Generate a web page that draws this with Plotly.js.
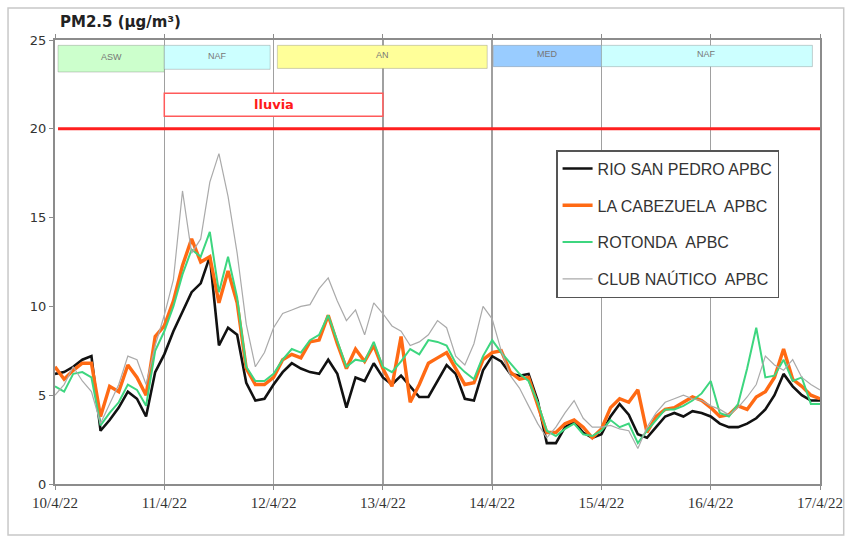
<!DOCTYPE html>
<html>
<head>
<meta charset="utf-8">
<script src="https://cdn.plot.ly/plotly-3.0.1.min.js"></script>
<style>
  html, body { margin: 0; padding: 0; background: #fff; }
  #chart { width: 851px; height: 542px; }
</style>
</head>
<body>
<div id="chart"></div>
<script>
// ---- Data (2-hour readings from 10/4/22 00:00 to 17/4/22 00:00) ----
const startDay = 10;
const stepHours = 2;

const rioSanPedro = [6.2, 6.3, 6.6, 7.0, 7.2, 3.0, 3.6, 4.3, 5.2, 4.8, 3.8, 6.3, 7.3, 8.6, 9.7, 10.8, 11.3, 12.8, 7.8, 8.8, 8.4, 5.7, 4.7, 4.8, 5.6, 6.3, 6.8, 6.5, 6.3, 6.2, 7.0, 6.2, 4.3, 6.0, 5.8, 6.8, 6.0, 5.6, 6.1, 5.5, 4.9, 4.9, 5.8, 6.7, 6.2, 4.8, 4.7, 6.4, 7.2, 6.9, 6.2, 6.1, 6.2, 4.7, 2.3, 2.3, 3.2, 3.5, 2.9, 2.6, 2.8, 3.8, 4.5, 3.9, 2.8, 2.6, 3.2, 3.8, 4.0, 3.8, 4.1, 4.0, 3.8, 3.4, 3.2, 3.2, 3.4, 3.7, 4.2, 5.0, 6.2, 5.5, 5.0, 4.7, 4.7];
const laCabezuela = [6.6, 5.9, 6.4, 6.8, 6.8, 3.8, 5.5, 5.2, 6.7, 6.0, 5.0, 8.3, 8.9, 10.3, 12.3, 13.8, 12.5, 12.8, 10.2, 12.0, 10.2, 6.5, 5.6, 5.6, 6.0, 7.0, 7.3, 7.1, 8.0, 8.1, 9.5, 7.9, 6.5, 7.6, 6.9, 7.8, 6.5, 5.5, 8.3, 4.6, 5.6, 6.8, 7.1, 7.4, 6.5, 5.6, 5.7, 7.0, 7.4, 7.5, 6.3, 5.9, 6.0, 4.5, 2.9, 2.9, 3.4, 3.6, 3.2, 2.6, 3.1, 4.3, 4.8, 4.6, 5.3, 2.9, 3.8, 4.2, 4.3, 4.6, 4.9, 4.7, 4.3, 3.8, 3.9, 4.4, 4.2, 4.9, 5.2, 6.0, 7.6, 5.9, 5.5, 5.0, 4.8];
const rotonda = [5.5, 5.2, 6.2, 6.3, 6.0, 3.3, 4.0, 4.6, 5.6, 5.3, 4.4, 7.5, 8.6, 10.0, 11.8, 13.2, 12.8, 14.2, 10.8, 12.8, 10.5, 6.6, 5.8, 5.8, 6.2, 7.0, 7.6, 7.4, 8.1, 8.4, 9.5, 8.1, 6.6, 7.0, 6.9, 8.0, 6.6, 6.3, 6.9, 7.6, 7.3, 8.1, 8.0, 7.8, 6.8, 6.3, 5.9, 7.2, 8.1, 7.4, 6.8, 6.2, 5.8, 4.6, 3.0, 2.7, 3.1, 3.4, 2.8, 2.7, 3.0, 3.6, 3.2, 3.4, 2.3, 3.0, 3.6, 4.2, 4.2, 4.4, 4.7, 5.1, 5.8, 4.0, 3.8, 4.5, 6.5, 8.8, 6.0, 6.1, 7.0, 5.8, 6.0, 4.5, 4.5];
const clubNautico = [5.0, 5.6, 6.6, 5.8, 5.2, 3.4, 4.5, 5.6, 7.2, 7.0, 5.6, 7.8, 9.5, 11.5, 16.5, 13.0, 13.8, 17.0, 18.6, 16.2, 13.0, 9.0, 6.6, 7.4, 8.8, 9.6, 9.8, 10.0, 10.1, 11.0, 11.6, 10.3, 9.2, 9.8, 8.4, 10.2, 9.6, 8.9, 8.6, 7.8, 8.0, 8.4, 9.2, 8.8, 7.2, 6.7, 7.9, 10.0, 9.3, 7.5, 6.1, 5.4, 4.4, 3.4, 2.6, 3.2, 4.0, 4.7, 3.7, 3.2, 3.2, 3.3, 3.1, 3.0, 2.0, 3.2, 4.0, 4.6, 4.8, 5.0, 4.8, 4.7, 4.4, 4.2, 3.9, 4.3, 4.9, 5.6, 7.2, 6.7, 6.4, 7.0, 6.0, 5.6, 5.3];

const seriesNames = ['RIO SAN PEDRO APBC', 'LA CABEZUELA\u00a0 APBC', 'ROTONDA\u00a0 APBC', 'CLUB NAÚTICO\u00a0 APBC'];

const tickDates = ['2022-04-10', '2022-04-11', '2022-04-12', '2022-04-13', '2022-04-14', '2022-04-15', '2022-04-16', '2022-04-17'];
const tickLabels = ['10/4/22', '11/4/22', '12/4/22', '13/4/22', '14/4/22', '15/4/22', '16/4/22', '17/4/22'];

const limitValue = 20;
const limitStart = '2022-04-10 00:40';
const limitEnd = '2022-04-17 00:00';

// air-mass episodes
const episodeLabels = ['ASW', 'NAF', 'AN', 'MED', 'NAF'];
const episodeStart = ['2022-04-10 00:40', '2022-04-11 00:00', '2022-04-12 00:50', '2022-04-14 00:15', '2022-04-15 00:00'];
const episodeEnd = ['2022-04-11 00:00', '2022-04-11 23:15', '2022-04-13 22:55', '2022-04-15 00:00', '2022-04-16 22:20'];

const rainLabel = 'lluvia';
const rainStart = '2022-04-11 00:00';
const rainEnd = '2022-04-13 00:00';

// ---- Build ----
function stamp(k) {
  const h = k * stepHours;
  const d = startDay + Math.floor(h / 24);
  const hh = h % 24;
  return '2022-04-' + String(d).padStart(2, '0') + ' ' + String(hh).padStart(2, '0') + ':00';
}
const times = rioSanPedro.map((_, k) => stamp(k));

const seriesValues = [rioSanPedro, laCabezuela, rotonda, clubNautico];
const seriesColors = ['#111111', '#ff6a14', '#3dd67f', '#aaaaaa'];
const seriesWidths = [2.6, 3.4, 2.0, 1.2];

const traces = seriesValues.map((vals, i) => ({
  type: 'scatter',
  mode: 'lines',
  x: times,
  y: vals,
  name: seriesNames[i],
  legendgroup: 'g' + i,
  line: { color: seriesColors[i], width: seriesWidths[i] },
  hoverinfo: 'skip'
}));

const episodeFill = ['#ccffcc', '#ccffff', '#ffff99', '#99ccff', '#ccffff'];
const episodeTop = [24.7, 24.7, 24.7, 24.7, 24.7];
const episodeBottom = [23.2, 23.35, 23.4, 23.5, 23.5];

const shapes = [];
const annotations = [];

// outer frame
shapes.push({ type: 'rect', xref: 'paper', yref: 'paper', x0: -0.0614, x1: 1.031, y0: -0.115, y1: 1.072,
  line: { color: '#c8c8c8', width: 1.5 }, fillcolor: 'rgba(0,0,0,0)', layer: 'below' });

episodeLabels.forEach((lab, i) => {
  shapes.push({ type: 'rect', xref: 'x', yref: 'y', x0: episodeStart[i], x1: episodeEnd[i],
    y0: episodeBottom[i], y1: episodeTop[i], fillcolor: episodeFill[i],
    line: { color: 'rgba(120,120,120,0.35)', width: 1 }, layer: 'above' });
  const a = new Date(episodeStart[i].replace(' ', 'T') + ':00Z').getTime();
  const b = new Date(episodeEnd[i].replace(' ', 'T') + ':00Z').getTime();
  const mid = new Date((a + b) / 2).toISOString().replace('T', ' ').slice(0, 16);
  annotations.push({ xref: 'x', yref: 'y', x: mid, y: (episodeTop[i] + episodeBottom[i]) / 2 + 0.1,
    text: lab, showarrow: false, font: { family: 'Liberation Sans', size: 9, color: '#777' } });
});

// rain box
shapes.push({ type: 'rect', xref: 'x', yref: 'y', x0: rainStart, x1: rainEnd, y0: 20.7, y1: 22.0,
  fillcolor: '#ffffff', line: { color: '#ff5a5a', width: 1.5 }, layer: 'above' });
annotations.push({ xref: 'x', yref: 'y', x: '2022-04-12 00:00', y: 21.35, text: '<b>' + rainLabel + '</b>',
  showarrow: false, font: { family: 'DejaVu Sans', size: 13, color: '#ff1a1a' } });

// limit line
shapes.push({ type: 'line', xref: 'x', yref: 'y', x0: limitStart, x1: limitEnd, y0: limitValue, y1: limitValue,
  line: { color: '#ff2020', width: 3 }, layer: 'above' });

// title
annotations.push({ xref: 'paper', yref: 'paper', x: 0.004, y: 1.0, xanchor: 'left', yanchor: 'bottom', yshift: 7,
  text: '<b>PM2.5 (µg/m³)</b>', showarrow: false, font: { family: 'DejaVu Sans', size: 15, color: '#222' } });

const layout = {
  width: 851,
  height: 542,
  margin: { l: 55, r: 31, t: 40, b: 58 },
  paper_bgcolor: '#ffffff',
  plot_bgcolor: '#ffffff',
  showlegend: true,
  legend: {
    x: 0.655, y: 0.752, xanchor: 'left', yanchor: 'top',
    bgcolor: '#ffffff', bordercolor: '#555555', borderwidth: 1.5,
    font: { family: 'Liberation Sans', size: 16, color: '#333' },
    tracegroupgap: 13, traceorder: 'grouped', itemwidth: 30
  },
  xaxis: {
    type: 'date',
    range: ['2022-04-10 00:00', '2022-04-17 00:00'],
    tickmode: 'array', tickvals: tickDates, ticktext: tickLabels,
    showgrid: true, gridcolor: '#a0a0a0', gridwidth: 1.3,
    showline: true, linecolor: '#8c8c8c', linewidth: 2, mirror: 'ticks',
    ticks: 'outside', ticklen: 4, tickcolor: '#8c8c8c',
    tickfont: { family: 'Liberation Sans Narrow', size: 15, color: '#333' },
    zeroline: false, fixedrange: true
  },
  yaxis: {
    range: [0, 25], tickmode: 'linear', tick0: 0, dtick: 5,
    showgrid: false, zeroline: false,
    showline: true, linecolor: '#8c8c8c', linewidth: 2, mirror: true,
    ticks: 'outside', ticklen: 4, tickcolor: '#8c8c8c',
    tickfont: { family: 'DejaVu Sans', size: 13, color: '#333' },
    fixedrange: true
  },
  shapes: shapes,
  annotations: annotations
};

Plotly.newPlot('chart', traces, layout, { displayModeBar: false, staticPlot: true });
</script>
</body>
</html>
